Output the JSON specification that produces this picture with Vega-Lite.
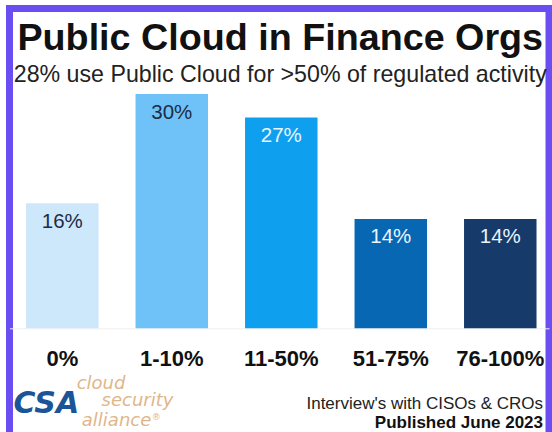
{
  "$schema": "https://vega.github.io/schema/vega-lite/v6.json",
  "width": 539.5,
  "height": 431.5,
  "autosize": {"type": "none"},
  "padding": {"left": 9.5, "top": 8.5, "right": 3, "bottom": 0},
  "background": "#ffffff",
  "title": {
    "text": "Public Cloud in Finance Orgs",
    "subtitle": "28% use Public Cloud for >50% of regulated activity",
    "anchor": "middle",
    "frame": "group",
    "orient": "top",
    "offset": -78,
    "dx": 1,
    "font": "Liberation Sans",
    "fontSize": 37.7,
    "fontWeight": "bold",
    "color": "#111111",
    "subtitleFont": "Liberation Sans",
    "subtitleFontSize": 23.2,
    "subtitleColor": "#222222",
    "subtitlePadding": 7
  },
  "config": {"view": {"stroke": "#6b4ef2", "strokeWidth": 7}},
  "data": {
    "values": [
      {"cat": "0%", "pct": 16, "label": "16%"},
      {"cat": "1-10%", "pct": 30, "label": "30%"},
      {"cat": "11-50%", "pct": 27, "label": "27%"},
      {"cat": "51-75%", "pct": 14, "label": "14%"},
      {"cat": "76-100%", "pct": 14, "label": "14%"}
    ]
  },
  "layer": [
    {
      "mark": {"type": "bar"},
      "encoding": {
        "x": {
          "field": "cat",
          "type": "nominal",
          "sort": null,
          "scale": {
            "domain": ["0%", "1-10%", "11-50%", "51-75%", "76-100%"],
            "paddingInner": 0.338,
            "paddingOuter": 0.1325,
            "align": 0.57
          },
          "axis": {
            "title": null,
            "orient": "bottom",
            "offset": -111.7,
            "labelAngle": 0,
            "labelFont": "Liberation Sans",
            "labelFontSize": 22,
            "labelFontWeight": "bold",
            "labelColor": "#111111",
            "labelPadding": 36.7,
            "labelBaseline": "alphabetic",
            "ticks": false,
            "tickSize": 0,
            "domainColor": "#efefef",
            "domainWidth": 1,
            "grid": false
          }
        },
        "y": {
          "field": "pct",
          "type": "quantitative",
          "scale": {"domain": [-14.3, 40.95], "nice": false, "zero": false},
          "axis": null
        },
        "color": {
          "field": "cat",
          "type": "nominal",
          "scale": {
            "domain": ["0%", "1-10%", "11-50%", "51-75%", "76-100%"],
            "range": ["#cde7fb", "#6fc2f7", "#0ea0ef", "#0867b3", "#163b6b"]
          },
          "legend": null
        }
      }
    },
    {
      "mark": {"type": "text", "font": "Liberation Sans", "fontSize": 20.5, "baseline": "alphabetic", "dy": 24.5},
      "encoding": {
        "x": {"field": "cat", "type": "nominal", "sort": null},
        "y": {"field": "pct", "type": "quantitative"},
        "text": {"field": "label"},
        "color": {
          "condition": {"test": "datum.cat === '0%' || datum.cat === '1-10%'", "value": "#1d2c45"},
          "value": "#eaf4fd"
        }
      }
    },
    {
      "data": {"values": [{"t": "Interview's with CISOs & CROs"}]},
      "mark": {"type": "text", "font": "Liberation Sans", "fontSize": 17, "align": "right", "baseline": "alphabetic", "dx": 42.75, "color": "#222222"},
      "encoding": {"x": {"datum": "76-100%"}, "y": {"datum": -10.33}, "text": {"field": "t"}}
    },
    {
      "data": {"values": [{"t": "Published June 2023"}]},
      "mark": {"type": "text", "font": "Liberation Sans", "fontSize": 17, "fontWeight": "bold", "align": "right", "baseline": "alphabetic", "dx": 42.75, "color": "#111111"},
      "encoding": {"x": {"datum": "76-100%"}, "y": {"datum": -12.77}, "text": {"field": "t"}}
    },
    {
      "data": {"values": [{"t": "CSA"}]},
      "mark": {"type": "text", "font": "DejaVu Sans", "fontSize": 30, "fontWeight": "bold", "fontStyle": "italic", "align": "center", "baseline": "alphabetic", "dx": -16, "color": "#1b5597"},
      "encoding": {"x": {"datum": "0%"}, "y": {"datum": -10.85}, "text": {"field": "t"}}
    },
    {
      "data": {"values": [{"t": "cloud"}]},
      "mark": {"type": "text", "font": "DejaVu Sans", "fontSize": 18, "fontStyle": "italic", "align": "center", "baseline": "alphabetic", "dx": 38.75, "color": "#dfb688"},
      "encoding": {"x": {"datum": "0%"}, "y": {"datum": -7.78}, "text": {"field": "t"}}
    },
    {
      "data": {"values": [{"t": "security"}]},
      "mark": {"type": "text", "font": "DejaVu Sans", "fontSize": 18, "fontStyle": "italic", "align": "center", "baseline": "alphabetic", "dx": 75.25, "color": "#dfb688"},
      "encoding": {"x": {"datum": "0%"}, "y": {"datum": -9.95}, "text": {"field": "t"}}
    },
    {
      "data": {"values": [{"t": "alliance"}]},
      "mark": {"type": "text", "font": "DejaVu Sans", "fontSize": 18, "fontStyle": "italic", "align": "center", "baseline": "alphabetic", "dx": 54.25, "color": "#dfb688"},
      "encoding": {"x": {"datum": "0%"}, "y": {"datum": -12.51}, "text": {"field": "t"}}
    },
    {
      "data": {"values": [{"t": "®"}]},
      "mark": {"type": "text", "font": "DejaVu Sans", "fontSize": 9, "align": "left", "baseline": "alphabetic", "dx": 89.5, "dy": -6, "color": "#dfb688"},
      "encoding": {"x": {"datum": "0%"}, "y": {"datum": -12.51}, "text": {"field": "t"}}
    }
  ]
}
